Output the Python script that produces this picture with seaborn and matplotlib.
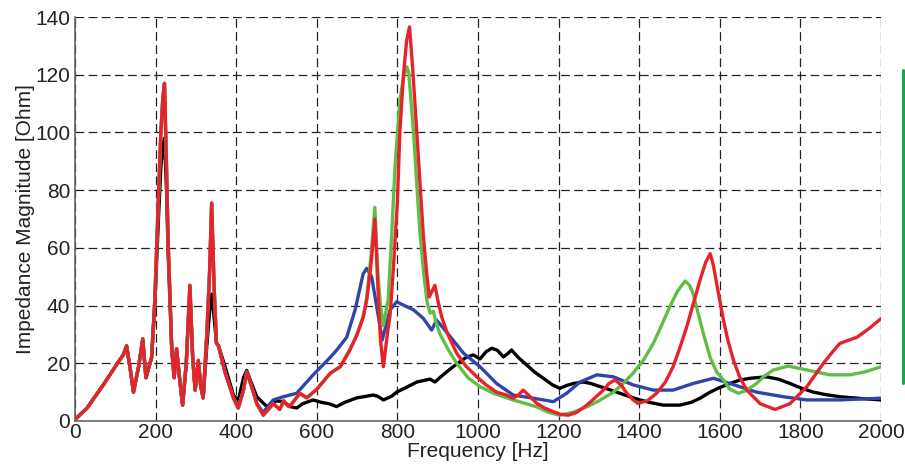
import numpy as np
import pandas as pd
import matplotlib
matplotlib.use("Agg")
import matplotlib.pyplot as plt
from matplotlib.lines import Line2D
import seaborn as sns

# Frequencies [Hz] and impedance magnitudes [Ohm]
# Low band (0-450 Hz) shared by the red, green and blue curves
f_low = [0, 30, 70, 103, 120, 128, 137, 145, 158, 168, 176, 190, 198, 207, 213,
         218, 222, 227, 231, 236, 240, 246, 252, 260, 267, 276, 285, 292, 298,
         306, 312, 318, 327, 334, 339, 345, 351, 356, 372, 393, 405, 418, 426,
         438, 451]
z_low = [0.5, 4.5, 12.5, 19.5, 23, 26, 18, 10, 19, 28.5, 15, 22, 42, 77, 100,
         112, 117, 88, 62, 42, 25, 15, 25, 14, 5.5, 20, 47, 22, 10.7, 21, 12, 8,
         30, 52, 75.5, 47, 27, 26, 17, 8, 4.5, 10.7, 17, 12, 6]
z_low_black = [0.5, 4.5, 12.5, 19.5, 23, 26, 18, 10, 19, 28, 15, 22, 40, 70, 88,
               95, 98, 80, 58, 40, 25, 15, 25, 14, 5.5, 20, 45, 22, 10.7, 20, 12, 8,
               26, 38, 44, 36, 27, 26, 19, 9, 7, 15, 17.5, 13, 8.4]

# black
f_black = [476, 500, 517, 533, 550, 565, 591, 610, 630, 649, 670, 699, 720, 740,
           752, 765, 785, 798, 820, 848, 881, 893, 905, 922, 940, 955, 970, 988,
           1005, 1020, 1034, 1048, 1063, 1075, 1083, 1100, 1121, 1140, 1162, 1185,
           1203, 1220, 1237, 1261, 1280, 1303, 1330, 1352, 1375, 1402, 1430, 1460,
           1501, 1530, 1551, 1576, 1600, 1625, 1650, 1675, 1716, 1745, 1774, 1800,
           1832, 1860, 1898, 1950, 2000]
z_black = [5, 7, 6.7, 5, 4.5, 6, 7.3, 6.5, 6, 5, 6.5, 8, 8.5, 9, 8.5, 7.3, 8.5,
           10, 11.5, 13.5, 14.5, 13.5, 15, 17, 19, 20.5, 22, 22.9, 21.5, 24, 25.2,
           24.5, 22.2, 23.5, 24.6, 22, 19.4, 17, 14.8, 12.5, 11.3, 12.3, 13, 13.5,
           13, 11.9, 10.7, 9.6, 8.5, 7.3, 6.3, 5.5, 5.5, 6.5, 7.9, 10, 11.6, 13,
           14.2, 14.8, 15.3, 14.5, 13, 11.5, 10, 9.2, 8.4, 7.8, 7.3]

# blue
f_blue = [467, 484, 492, 517, 550, 591, 633, 649, 674, 695, 715, 724, 736, 753,
          762, 782, 798, 840, 864, 885, 897, 922, 964, 1005, 1046, 1087, 1137,
          1187, 1220, 1253, 1295, 1336, 1385, 1435, 1484, 1534, 1584, 1625, 1691,
          1758, 1816, 1898, 2000]
z_blue = [3, 6, 7.3, 8.4, 9.6, 16, 22, 24.5, 29, 38.5, 51, 52.9, 50, 36, 28,
          38.5, 41.3, 38.5, 35.6, 31.5, 35, 30.8, 23.5, 18.8, 13, 9, 7.9, 6.7, 9.6,
          13.5, 16, 15.3, 12.5, 10.7, 10.7, 13, 14.8, 13, 10, 8.4, 7.3, 7.3, 7.9]

# green
f_green = [467, 480, 492, 508, 518, 530, 538, 558, 575, 600, 633, 658, 682, 700,
           715, 724, 735, 744, 752, 758, 765, 777, 786, 794, 806, 815, 823, 828,
           840, 848, 856, 866, 874, 881, 889, 896, 906, 925, 947, 975, 1005, 1040,
           1087, 1146, 1175, 1203, 1235, 1270, 1300, 1336, 1360, 1385, 1410, 1435,
           1455, 1476, 1495, 1514, 1525, 1534, 1545, 1559, 1576, 1592, 1609, 1625,
           1646, 1665, 1691, 1710, 1733, 1770, 1816, 1873, 1923, 1960, 2000]
z_green = [2, 4, 6, 4, 7, 5, 6, 9.6, 8, 11, 16.5, 18.8, 24.6, 30, 36, 43, 58, 74,
           50, 40, 33, 42, 65, 88, 111, 119, 122.7, 121, 100, 82, 65, 50, 41, 37.4,
           38, 34, 30, 25, 20, 15, 11.9, 9.5, 7.3, 4.9, 3, 2, 3, 4.9, 7, 10, 13,
           16.6, 21, 26.9, 33, 39.6, 45, 48.5, 47, 44, 38, 30.4, 22, 17, 14.2, 11,
           9.6, 10.5, 13, 15.5, 17.7, 19, 17.7, 16, 16, 17, 18.8]

# red
f_red = [467, 480, 492, 508, 518, 530, 538, 558, 575, 600, 633, 658, 682, 700,
         715, 724, 735, 744, 752, 758, 765, 775, 782, 790, 800, 806, 815, 823,
         830, 838, 848, 856, 864, 872, 879, 886, 893, 900, 910, 925, 947, 970,
         997, 1020, 1046, 1070, 1087, 1100, 1112, 1125, 1146, 1165, 1187, 1205,
         1224, 1245, 1270, 1290, 1311, 1325, 1340, 1355, 1369, 1385, 1397, 1420,
         1443, 1465, 1484, 1500, 1518, 1535, 1551, 1565, 1576, 1584, 1592, 1609,
         1620, 1634, 1650, 1667, 1700, 1737, 1774, 1816, 1857, 1880, 1898, 1920,
         1940, 1970, 2000]
z_red = [2, 4, 6, 4, 7, 5, 6, 9.6, 8, 11, 16.5, 18.8, 24.6, 30, 36, 42, 55, 70,
         45, 28, 18.8, 30, 37, 53, 76, 100, 120, 132, 136.6, 122, 100, 82, 65, 52,
         43, 45, 47, 42, 36, 30, 23.5, 19, 15.3, 12.5, 10, 9, 7.9, 9, 10.7, 9,
         6.1, 4.5, 3.2, 2.3, 2, 3, 5.5, 8, 10.7, 13, 14.2, 12.5, 9.7, 7.3, 6.1, 7,
         9.6, 13.5, 18.8, 25, 32.7, 41, 48.9, 55, 58, 54, 47.7, 35, 28, 21, 15,
         10.7, 6, 4, 6, 11.9, 20, 24, 26.9, 28, 29, 32, 35.5]

curves = [
    (f_low + f_black, z_low_black + z_black, "#000000"),
    (f_low + f_blue, z_low + z_blue, "#2f45a8"),
    (f_low + f_green, z_low + z_green, "#62bd45"),
    (f_low + f_red, z_low + z_red, "#e8222b"),
]

sns.set_style("white")
plt.rcParams['font.family'] = ['Liberation Sans', 'DejaVu Sans']

fig = plt.figure(figsize=(9.05, 4.66), dpi=100)
ax = fig.add_axes([0.0829, 0.0966, 0.8906, 0.8669])

for f, z, c in curves:
    df = pd.DataFrame({"f": f, "z": z})
    sns.lineplot(data=df, x="f", y="z", color=c, lw=2.4, sort=False,
                 estimator=None, ax=ax)

ax.set_xlim(0, 2000)
ax.set_ylim(0, 140)
ax.set_xticks(np.arange(0, 2001, 200))
ax.set_yticks(np.arange(0, 141, 20))
ax.grid(True, color="#222222", lw=0.9, linestyle=(0, (7, 3.5)))
ax.set_axisbelow(True)

for s in ["top", "right"]:
    ax.spines[s].set_visible(False)
for s in ["left", "bottom"]:
    ax.spines[s].set_color("#666666")
    ax.spines[s].set_linewidth(1.2)

ax.tick_params(axis="both", direction="in", length=5, width=0.8,
               color="#444444", labelsize=15, labelcolor="#222222")
ax.tick_params(axis="x", pad=1.5)
ax.tick_params(axis="y", pad=3.5)
ax.set_xlabel("Frequency [Hz]", fontsize=15, labelpad=0, color="#222222")
ax.set_ylabel("Impedance Magnitude [Ohm]", fontsize=15, labelpad=0,
              color="#222222")

# green bar at the right edge
fig.add_artist(Line2D([0.9975, 0.9975], [0.178, 0.85], color="#14a84a", lw=2.2,
                      transform=fig.transFigure))

fig.savefig("out.png", dpi=100)
